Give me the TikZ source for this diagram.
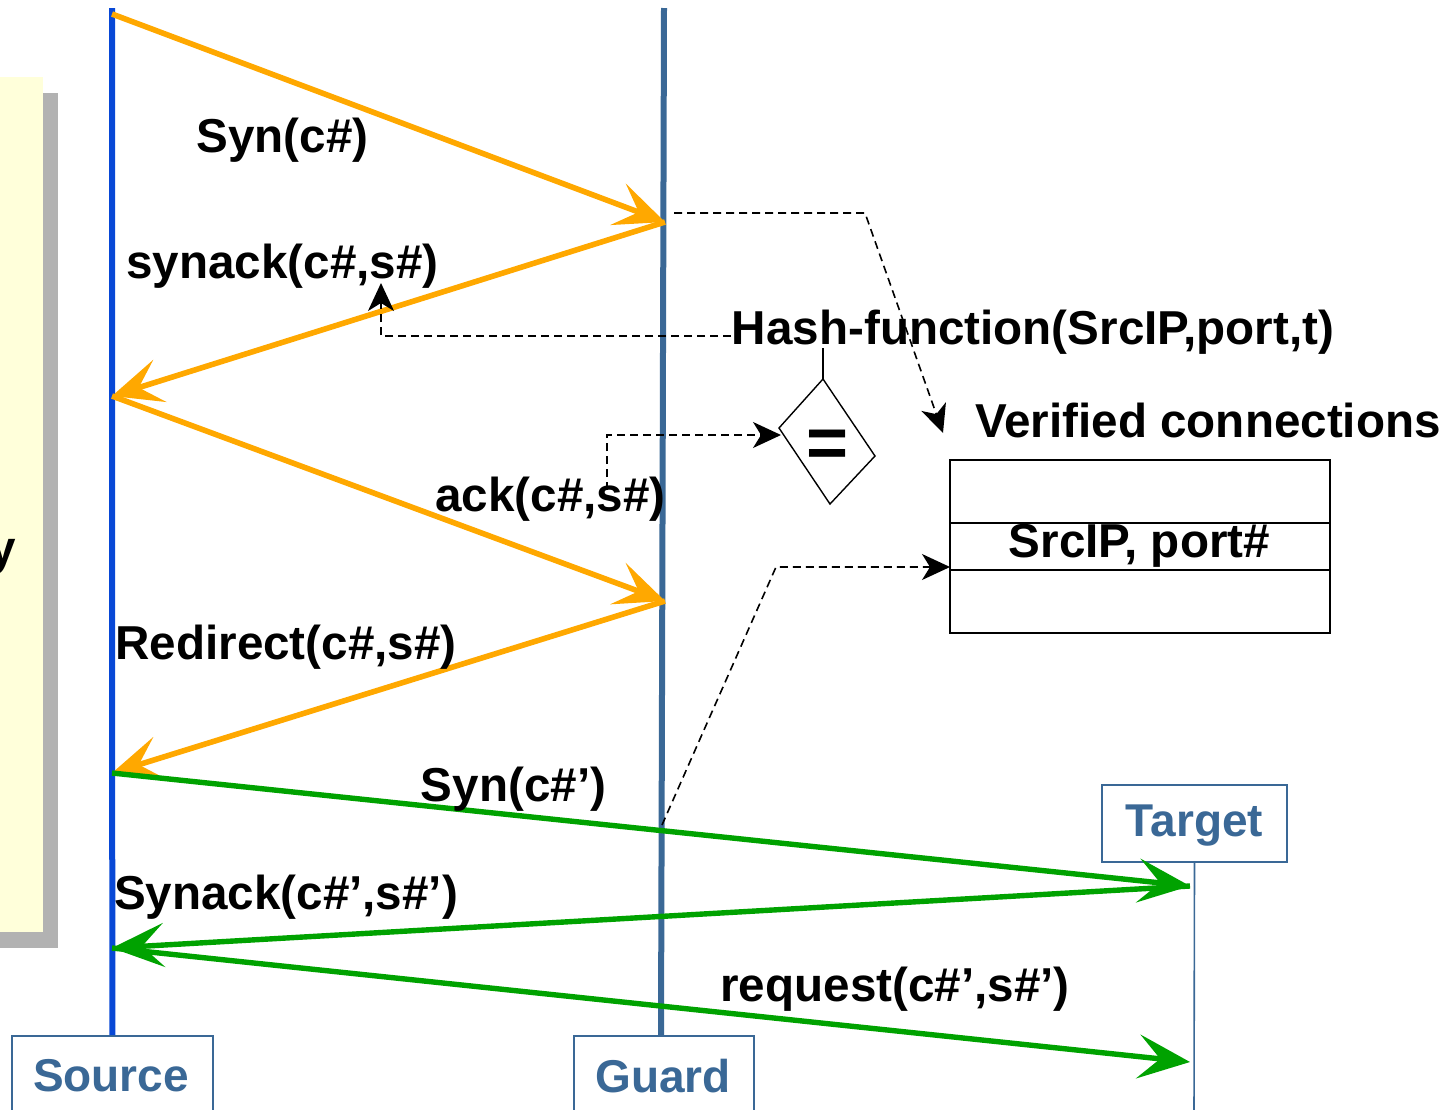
\documentclass[tikz,border=0pt]{standalone}
\usepackage{fontspec}
\setmainfont{Liberation Sans}
\usetikzlibrary{arrows.meta}
\definecolor{orng}{RGB}{255,168,0}
\definecolor{grn}{RGB}{0,162,0}
\definecolor{srcblue}{RGB}{8,72,214}
\definecolor{steel}{RGB}{58,104,150}
\definecolor{paleyel}{RGB}{255,255,218}
\begin{document}
\begin{tikzpicture}[x=0.5pt,y=-0.5pt,
  msg/.style={font=\fontsize{23.8}{28}\selectfont\bfseries, inner sep=0pt},
  actor/.style={draw=steel, line width=0.8pt, text=steel, fill=white,
    font=\fontsize{23}{28}\selectfont\bfseries, inner sep=0pt},
  orarrow/.style={draw=orng, line width=2.8pt, -{Stealth[length=25pt,width=22pt,inset=11pt]}},
  grarrow/.style={draw=grn, line width=2.7pt, -{Stealth[length=26pt,width=22pt,inset=11pt]}},
  dasharrow/.style={draw=black, line width=0.8pt, dash pattern=on 4pt off 2.5pt,
    -{Stealth[length=14pt,width=13pt,inset=4pt]}},
  thinbox/.style={draw=black, line width=0.8pt, inner sep=0pt}
]
\clip (0,0) rectangle (1446,1109);
\useasboundingbox (0,0) rectangle (1446,1109);

% left panel with shadow
\fill[black!30] (-10,93) rectangle (58,948);
\fill[paleyel] (-10,77) rectangle (43,932);
\node[msg, anchor=base east] (ylet) at (16,564) {y};

% actor boxes
\node[actor, anchor=north west, minimum width=100.5pt, minimum height=40pt] (src) at (11,1035) {};
\node[msg, text=steel, font=\fontsize{23}{28}\selectfont\bfseries] (srclbl) at (111,1076) {Source};
\node[actor, anchor=north west, minimum width=90pt, minimum height=40pt] (grd) at (573,1035) {};
\node[msg, text=steel, font=\fontsize{23}{28}\selectfont\bfseries] (grdlbl) at (663,1076) {Guard};
\node[actor, minimum width=92.5pt, minimum height=38.5pt] (tgt) at (1194.5,823.5) {};
\node[msg, text=steel, font=\fontsize{23}{28}\selectfont\bfseries] (tgtlbl) at (1194.5,826) {Target};

% lifelines
\coordinate (srctop) at (112,8);
\coordinate (grdtop) at (664,8);
\coordinate (grdbot) at (661,1035);
\coordinate (tgtbot) at (1194,1115);
\draw[srcblue, line width=3pt] (srctop) -- (src.north);
\draw[steel, line width=3pt] (grdtop) -- (grdbot);
\draw[steel, line width=0.8pt] (tgt.south) -- (tgtbot);

% message points
\coordinate (s0) at (112,14);
\coordinate (g1) at (665,222);
\coordinate (s1) at (112,396);
\coordinate (g2) at (665,601);
\coordinate (s2) at (112,773);
\coordinate (t1) at (1190,886);
\coordinate (s3) at (112,948);
\coordinate (t2) at (1190,1062);

% messages
\draw[orarrow] (s0) -- (g1);
\draw[orarrow] (g1) -- (s1);
\draw[orarrow] (s1) -- (g2);
\draw[orarrow] (g2) -- (s2);
\draw[grarrow] (s2) -- (t1);
\draw[grarrow] (t1) -- (s3);
\draw[grarrow] (s3) -- (t2);

% message labels
\node[msg] (l1) at (282.5,140) {Syn(c\#)};
\node[msg] (l2) at (282.5,266) {synack(c\#,s\#)};
\node[msg] (l3) at (550.5,499) {ack(c\#,s\#)};
\node[msg] (l4) at (286,647) {Redirect(c\#,s\#)};
\node[msg] (l5) at (513.5,789) {Syn(c\#’)};
\node[msg] (l6) at (286,897) {Synack(c\#’,s\#’)};
\node[msg] (l7) at (895,989) {request(c\#’,s\#’)};

% hash function and comparison
\node[msg] (hash) at (1033,332) {Hash-function(SrcIP,port,t)};
\coordinate (dtop) at (823,379);
\coordinate (dleft) at (779,428);
\coordinate (dbot) at (830,504);
\coordinate (dright) at (875,456);
\draw[black, line width=0.7pt] (dtop) -- (dright) -- (dbot) -- (dleft) -- cycle;
\node[inner sep=0pt, font=\fontsize{36}{36}\selectfont\bfseries] (eq) at (828,449) {=};
\coordinate (hashbot) at (823,348);
\draw[black, line width=0.7pt] (hashbot) -- (dtop);

% verified connections table
\node[msg, anchor=base] (ver) at (1208,437) {Verified connections};
\node[thinbox, minimum width=190pt, minimum height=86.5pt] (tab) at (1140,546.5) {};
\coordinate (r1w) at (950,523);
\coordinate (r1e) at (1330,523);
\coordinate (r2w) at (950,570);
\coordinate (r2e) at (1330,570);
\draw[black, line width=0.8pt] (r1w) -- (r1e);
\draw[black, line width=0.8pt] (r2w) -- (r2e);
\node[msg, anchor=base] (entry) at (1139.5,557) {SrcIP, port\#};

% dashed connectors
\coordinate (da0) at (674,213);
\coordinate (da1) at (865,213);
\coordinate (da2) at (943,433);
\draw[dasharrow] (da0) -- (da1) -- (da2);

\coordinate (db0) at (731,336);
\coordinate (db1) at (381,283);
\draw[dasharrow] (db0) -| (db1);

\coordinate (dc0) at (607,490);
\coordinate (dc1) at (781,435);
\draw[dasharrow] (dc0) |- (dc1);

\coordinate (dd0) at (662,825);
\coordinate (dd1) at (776,567);
\coordinate (dd2) at (950,567);
\draw[dasharrow] (dd0) -- (dd1) -- (dd2);
\end{tikzpicture}
\end{document}
